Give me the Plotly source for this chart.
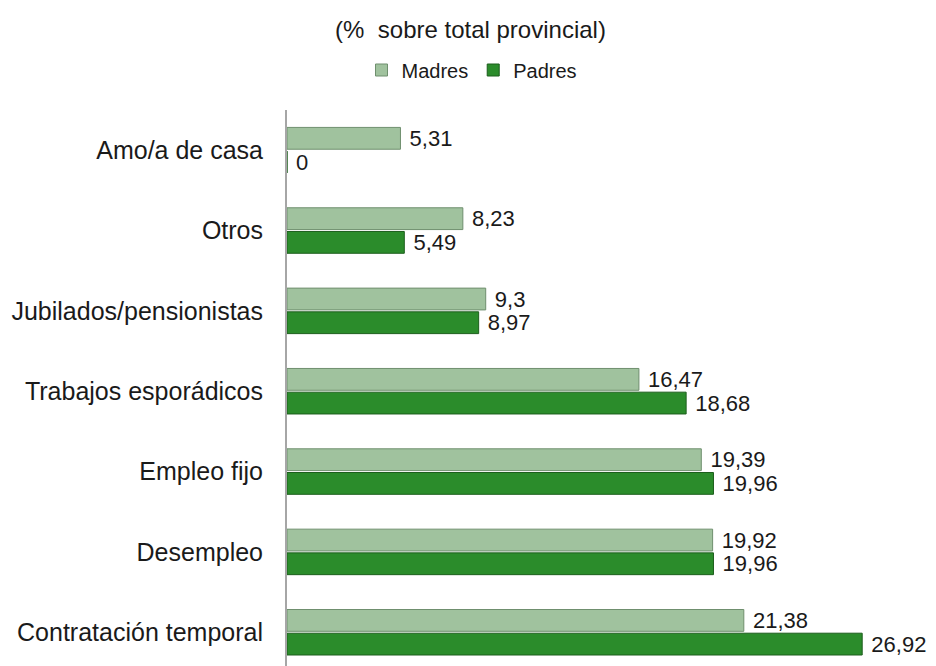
import plotly.graph_objects as go

categories = ["Contratación temporal", "Desempleo", "Empleo fijo", "Trabajos esporádicos",
              "Jubilados/pensionistas", "Otros", "Amo/a de casa"]
madres = [21.38, 19.92, 19.39, 16.47, 9.3, 8.23, 5.31]
padres = [26.92, 19.96, 19.96, 18.68, 8.97, 5.49, 0]

def fmt(v):
    return "\u00a0" + ("%g" % v).replace(".", ",")

font_family = "Liberation Sans, Arial, Helvetica, sans-serif"
W, H = 928, 658

fig = go.Figure()
# Padres first so it is drawn below Madres within each group (horizontal bars)
fig.add_trace(go.Bar(
    y=categories, x=padres, orientation="h", name="Padres",
    marker=dict(color="#2b8c2b", line=dict(color="#1c5e1c", width=1)),
    text=[fmt(v) for v in padres], textposition="outside", cliponaxis=False,
    constraintext="none",
    textfont=dict(size=22, color="#1a1a1a", family=font_family),
))
fig.add_trace(go.Bar(
    y=categories, x=madres, orientation="h", name="Madres",
    marker=dict(color="#a0c29e", line=dict(color="#6f8f6e", width=1)),
    text=[fmt(v) for v in madres], textposition="outside", cliponaxis=False,
    constraintext="none",
    textfont=dict(size=22, color="#1a1a1a", family=font_family),
))

fig.update_layout(
    width=W, height=H,
    margin=dict(l=279, r=8, t=102, b=0),
    paper_bgcolor="white", plot_bgcolor="white",
    barmode="group", bargap=0.41, bargroupgap=0.08,
    font=dict(family=font_family, size=22, color="#1a1a1a"),
    title=dict(text="(%\u00a0 sobre total provincial)", x=462.5 / W, xref="container",
               xanchor="center", y=1 - 22 / H, yref="container", yanchor="middle",
               font=dict(size=24, color="#1a1a1a")),
    legend=dict(orientation="h", x=464 / W, xref="container", xanchor="center",
                y=1 - 62 / H, yanchor="middle", yref="container",
                font=dict(size=20, color="#1a1a1a"),
                itemwidth=30, traceorder="reversed"),
    showlegend=True,
)
fig.update_xaxes(range=[0, 30], visible=False, showgrid=False, zeroline=False,
                 automargin=False)
fig.update_yaxes(range=[-0.42, 6.5], showline=True, linecolor="#a6a6a6", linewidth=2,
                 ticks="", showgrid=False, ticklabelstandoff=17, automargin=False,
                 tickfont=dict(size=25, color="#1a1a1a"))

fig.write_html("out.html")
